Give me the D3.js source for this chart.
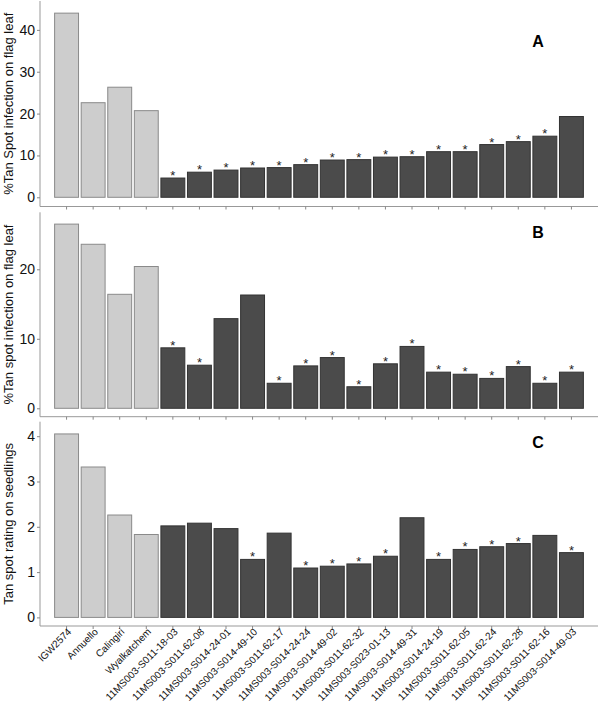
<!DOCTYPE html>
<html><head><meta charset="utf-8">
<script src="https://cdn.jsdelivr.net/npm/d3@7"></script>
<style>body{margin:0;background:#fff}svg{display:block}</style>
</head><body>
<script>
const categories = ["IGW2574","Annuello","Calingiri","Wyalkatchem",
"11MS003-S011-18-03","11MS003-S011-62-08","11MS003-S014-24-01","11MS003-S014-49-10",
"11MS003-S011-62-17","11MS003-S014-24-24","11MS003-S014-49-02","11MS003-S011-62-32",
"11MS003-S023-01-13","11MS003-S014-49-31","11MS003-S014-24-19","11MS003-S011-62-05",
"11MS003-S011-62-24","11MS003-S011-62-28","11MS003-S011-62-16","11MS003-S014-49-03"];
const isCheck = [1,1,1,1,0,0,0,0,0,0,0,0,0,0,0,0,0,0,0,0];
const valuesA = [44.0,22.6,26.3,20.7,4.6,6.0,6.5,7.0,7.1,7.8,8.9,9.0,9.6,9.7,10.9,10.9,12.6,13.3,14.6,19.3];
const starsA  = [0,0,0,0,1,1,1,1,1,1,1,1,1,1,1,1,1,1,1,0];
const valuesB = [26.5,23.6,16.4,20.4,8.7,6.2,12.9,16.3,3.6,6.1,7.3,3.1,6.4,8.9,5.2,4.9,4.3,6.0,3.6,5.2];
const starsB  = [0,0,0,0,1,1,0,0,1,1,1,1,1,1,1,1,1,1,1,1];
const valuesC = [4.05,3.32,2.26,1.83,2.02,2.08,1.96,1.28,1.86,1.09,1.13,1.18,1.35,2.2,1.28,1.5,1.56,1.63,1.81,1.43];
const starsC  = [0,0,0,0,0,0,0,1,0,1,1,1,1,0,1,1,1,1,0,1];
const ticksA = [0,10,20,30,40];
const ticksB = [0,10,20];
const ticksC = [0,1,2,3,4];
const titles = ["%Tan Spot infection on flag leaf","%Tan spot infection on flag leaf","Tan spot rating on seedlings"];
const letters = ["A","B","C"];

const W = 600, H = 705;
const svg = d3.select("body").append("svg").attr("width",W).attr("height",H)
  .style("font-family","'Liberation Sans', Arial, sans-serif");

const left = 40, right = 598;
const x = d3.scaleBand().domain(categories).range([left,right]).paddingInner(0.1).paddingOuter(0.55);

const panels = [
  {vals:valuesA, stars:starsA, ticks:ticksA, dom:[-2.2,46.9], rng:[206.5,1]},
  {vals:valuesB, stars:starsB, ticks:ticksB, dom:[-1.21,28.2], rng:[416.7,212.3]},
  {vals:valuesC, stars:starsC, ticks:ticksC, dom:[-0.19,4.32], rng:[626,421.7]}
];

panels.forEach((p,pi)=>{
  const y = d3.scaleLinear().domain(p.dom).range(p.rng);
  const g = svg.append("g");
  g.selectAll("rect.bar").data(categories).enter().append("rect")
    .attr("x",d=>x(d)).attr("width",x.bandwidth())
    .attr("y",(d,i)=>y(p.vals[i])).attr("height",(d,i)=>y(0)-y(p.vals[i]))
    .attr("fill",(d,i)=>isCheck[i]?"#cdcdcd":"#4b4b4b")
    .attr("stroke",(d,i)=>isCheck[i]?"#8a8a8a":"#333333")
    .attr("stroke-width",1);
  g.selectAll("text.star").data(categories.filter((d,i)=>p.stars[i])).enter().append("text")
    .attr("x",d=>x(d)+x.bandwidth()/2)
    .attr("y",d=>y(p.vals[categories.indexOf(d)])+2)
    .attr("text-anchor","middle").attr("font-size",13).attr("fill","#222").text("*");
  const ya = d3.axisLeft(y).tickValues(p.ticks).tickSize(3).tickPadding(2).tickFormat(d3.format("d"));
  const yg = g.append("g").attr("transform",`translate(${left},0)`).call(ya);
  yg.select(".domain").attr("stroke","#999").attr("d",`M0,${p.rng[0]}V${p.rng[1]}`);
  yg.selectAll(".tick line").attr("stroke","#888");
  yg.selectAll(".tick text").attr("font-size",14).attr("fill","#111").attr("font-family","'Liberation Sans', Arial, sans-serif");
  const xa = d3.axisBottom(x).tickSize(3).tickFormat("");
  const xg = g.append("g").attr("transform",`translate(0,${p.rng[0]})`).call(xa);
  xg.select(".domain").attr("stroke","#999").attr("d",`M${left},0H${right}`);
  xg.selectAll(".tick line").attr("stroke","#888");
  const cy = (p.rng[0]+p.rng[1])/2;
  g.append("text").attr("transform",`translate(13,${cy}) rotate(-90)`)
    .attr("text-anchor","middle").attr("font-size",13).attr("fill","#111").text(titles[pi]);
  g.append("text").attr("x",538).attr("y",p.rng[1]+(pi===0?46:26))
    .attr("text-anchor","middle").attr("font-size",16).attr("font-weight","bold").attr("fill","#000").text(letters[pi]);
  if(pi===2){
    g.selectAll("text.xl").data(categories).enter().append("text")
      .attr("transform",d=>`translate(${x(d)+x.bandwidth()/2+3},${p.rng[0]+4}) rotate(-45)`)
      .attr("text-anchor","end").attr("dy","0.35em").attr("font-size",10).attr("fill","#111").text(d=>d);
  }
});
</script>
</body></html>
